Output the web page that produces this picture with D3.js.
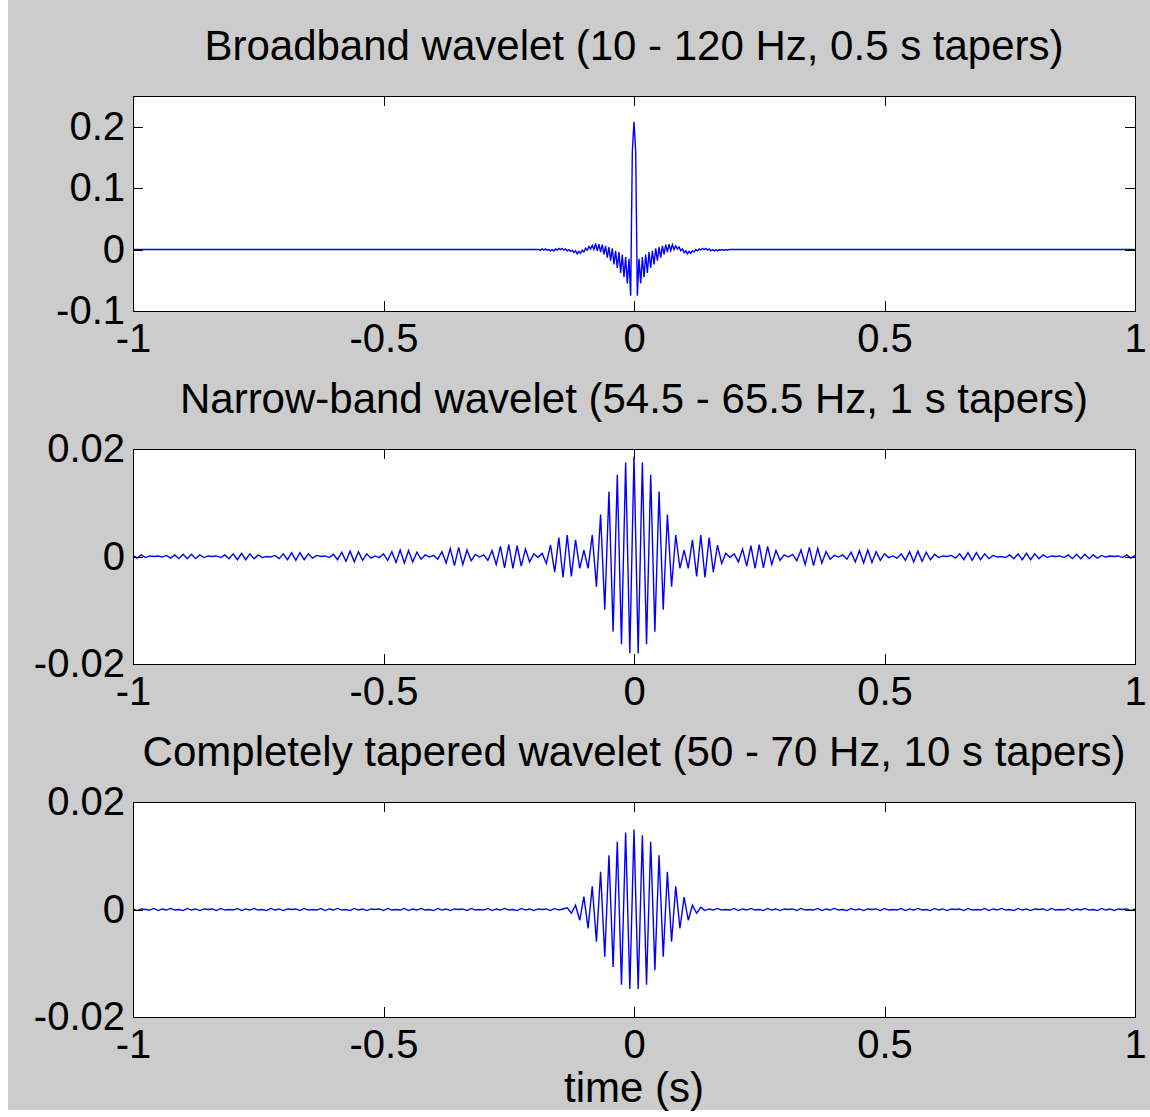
<!DOCTYPE html>
<html>
<head>
<meta charset="utf-8">
<script src="https://cdn.jsdelivr.net/npm/d3@7"></script>
<style>
  body { margin: 0; background: #fff; }
  svg { display: block; }
  text { font-family: "Liberation Sans", Arial, sans-serif; fill: #000; }
</style>
</head>
<body>
<svg id="fig" width="1150" height="1117"></svg>
<script>
// ---- data ----
const titles = [
  "Broadband wavelet (10 - 120 Hz, 0.5 s tapers)",
  "Narrow-band wavelet (54.5 - 65.5 Hz, 1 s tapers)",
  "Completely tapered wavelet (50 - 70 Hz, 10 s tapers)"
];
const xLabel = "time (s)";
const xTicks = [-1, -0.5, 0, 0.5, 1];
const yDomains = [[-0.1, 0.25], [-0.02, 0.02], [-0.02, 0.02]];
const yTicks = [[-0.1, 0, 0.1, 0.2], [-0.02, 0, 0.02], [-0.02, 0, 0.02]];

// broadband: samples every 1/300 s in [-0.19, 0.19], flat zero outside
const broadT = [-1].concat(d3.range(-57, 58).map(k => k / 300), [1]);
const broadY = [0,
  0, -0.001, 0.001, -0.001, 0.001, -0.001, 0, -0.002, 0, -0.002,
  0.001, -0.001, 0.002, 0, 0.002, -0.001, 0.001, -0.002, 0, -0.003,
  -0.001, -0.005, -0.002, -0.007, -0.003, -0.006, -0.001, -0.004, 0.002, -0.001,
  0.005, 0.001, 0.007, 0, 0.010, -0.002, 0.009, -0.004, 0.008, -0.008,
  0.006, -0.013, 0.004, -0.018, 0.002, -0.024, -0.002, -0.030, -0.004, -0.038,
  -0.008, -0.045, -0.012, -0.055, -0.015, -0.075, 0.160,
  0.208, 0.160, -0.075, -0.015, -0.055, -0.012, -0.045, -0.008, -0.038, -0.004,
  -0.030, -0.002, -0.024, 0.002, -0.018, 0.004, -0.013, 0.006, -0.008, 0.008,
  -0.004, 0.009, -0.002, 0.008, 0, 0.006, 0.001, 0.004, -0.002, 0.001,
  -0.005, -0.002, -0.007, -0.003, -0.006, -0.002, -0.004, 0, -0.002, 0.001,
  -0.001, 0.002, 0, 0.002, -0.001, 0.001, -0.002, 0, -0.002, 0,
  -0.002, 0, -0.001, 0, -0.001, 0, -0.001, 0,
  0];

// narrow-band and tapered: one sample per half cycle (1/120 s) over [-1, 1]
const narrowT = d3.range(-120, 121).map(k => k / 120);
const narrowY = [
  0.0002, -0.0003, 0.0003, -0.0002, 0.0001, 0, 0.0001, -0.0001, 0.0002, -0.0003,
  0.0003, -0.0004, 0.0004, -0.0004, 0.0004, -0.0004, 0.0003, -0.0002, 0.0001, 0,
  0.0001, -0.0002, 0.0003, -0.0004, 0.0005, -0.0006, 0.0006, -0.0006, 0.0005, -0.0004,
  0.0003, -0.0002, 0, -0.0001, 0.0002, -0.0004, 0.0005, -0.0006, 0.0007, -0.0007,
  0.0007, -0.0006, 0.0005, -0.0003, 0.0002, 0, 0.0001, -0.0002, 0.0004, -0.0006,
  0.0008, -0.0009, 0.0010, -0.0010, 0.0009, -0.0007, 0.0005, -0.0003, 0.0001, -0.0002,
  0.0005, -0.0007, 0.0009, -0.0011, 0.0012, -0.0012, 0.0011, -0.0010, 0.0008, -0.0005,
  0.0003, -0.0001, 0.0002, -0.0005, 0.0009, -0.0012, 0.0015, -0.0017, 0.0017, -0.0015,
  0.0012, -0.0008, 0.0004, -0.0001, 0.0003, -0.0007, 0.0011, -0.0015, 0.0019, -0.0021,
  0.0022, -0.0022, 0.0020, -0.0018, 0.0014, -0.0010, 0.0005, -0.0002, 0.0006, -0.0013,
  0.0021, -0.0029, 0.0035, -0.0039, 0.0040, -0.0037, 0.0031, -0.0022, 0.0012, -0.0022,
  0.0040, -0.0056, 0.0078, -0.0099, 0.0121, -0.0140, 0.0152, -0.0163, 0.0175, -0.0180,
  0.0186, -0.0180, 0.0175, -0.0163, 0.0152, -0.0140, 0.0121, -0.0099, 0.0078, -0.0056,
  0.0040, -0.0022, 0.0012, -0.0022, 0.0031, -0.0037, 0.0040, -0.0039, 0.0035, -0.0029,
  0.0021, -0.0013, 0.0006, -0.0002, 0.0005, -0.0010, 0.0014, -0.0018, 0.0020, -0.0022,
  0.0022, -0.0021, 0.0019, -0.0015, 0.0011, -0.0007, 0.0003, -0.0001, 0.0004, -0.0008,
  0.0012, -0.0015, 0.0017, -0.0017, 0.0015, -0.0012, 0.0009, -0.0005, 0.0002, -0.0001,
  0.0003, -0.0005, 0.0008, -0.0010, 0.0011, -0.0012, 0.0012, -0.0011, 0.0009, -0.0007,
  0.0005, -0.0002, 0.0001, -0.0003, 0.0005, -0.0007, 0.0009, -0.0010, 0.0010, -0.0009,
  0.0008, -0.0006, 0.0004, -0.0002, 0.0001, 0, 0.0002, -0.0003, 0.0005, -0.0006,
  0.0007, -0.0007, 0.0007, -0.0006, 0.0005, -0.0004, 0.0002, -0.0001, 0, -0.0002,
  0.0003, -0.0004, 0.0005, -0.0006, 0.0006, -0.0006, 0.0005, -0.0004, 0.0003, -0.0002,
  0.0001, 0, 0.0001, -0.0002, 0.0003, -0.0004, 0.0004, -0.0004, 0.0004, -0.0004,
  0.0003, -0.0003, 0.0002, -0.0001, 0.0001, 0, 0.0001, -0.0002, 0.0003, -0.0003,
  0.0002
];

const taperT = narrowT;
const taperY = [
  0.0001, -0.0002, 0.0001, 0, -0.0001, 0.0002, -0.0002, 0.0001, -0.0001, 0.0002,
  -0.0001, 0, -0.0002, 0.0002, -0.0001, 0.0001, -0.0002, 0.0001, 0, 0.0001,
  -0.0002, 0.0002, -0.0001, 0, -0.0001, 0.0002, -0.0002, 0.0001, -0.0001, 0.0002,
  -0.0001, 0, -0.0002, 0.0002, -0.0001, 0.0001, -0.0002, 0.0001, 0, 0.0001,
  -0.0002, 0.0002, -0.0001, 0, -0.0001, 0.0002, -0.0002, 0.0001, -0.0001, 0.0002,
  -0.0001, 0, -0.0002, 0.0002, -0.0001, 0.0001, -0.0002, 0.0001, 0, 0.0001,
  -0.0002, 0.0002, -0.0001, 0, -0.0001, 0.0002, -0.0002, 0.0001, -0.0001, 0.0002,
  -0.0001, 0, -0.0002, 0.0002, -0.0001, 0.0001, -0.0002, 0.0001, 0, 0.0001,
  -0.0002, 0.0002, -0.0001, 0, -0.0001, 0.0002, -0.0002, 0.0001, -0.0001, 0.0002,
  -0.0001, 0, -0.0002, 0.0002, -0.0001, 0.0001, -0.0002, 0.0001, 0, 0.0001,
  -0.0002, 0.0002, -0.0001, 0.0001,
  0.0003, -0.0007, 0.0008, -0.0020, 0.0024, -0.0035, 0.0043, -0.0060, 0.0070, -0.0088,
  0.0101, -0.0107, 0.0126, -0.0140, 0.0143, -0.0148,
  0.0149,
  -0.0148, 0.0138, -0.0140, 0.0126, -0.0113, 0.0101, -0.0088, 0.0070, -0.0060, 0.0043,
  -0.0035, 0.0023, -0.0020, 0.0008, -0.0007, 0.0004,
  -0.0002, 0.0001, -0.0001, 0.0002, -0.0001, 0, -0.0001, 0.0002, -0.0002, 0.0001,
  -0.0001, 0.0002, -0.0001, 0, -0.0002, 0.0002, -0.0001, 0.0001, -0.0002, 0.0001,
  0, 0.0001, -0.0002, 0.0002, -0.0001, 0, -0.0001, 0.0002, -0.0002, 0.0001,
  -0.0001, 0.0002, -0.0001, 0, -0.0002, 0.0002, -0.0001, 0.0001, -0.0002, 0.0001,
  0, 0.0001, -0.0002, 0.0002, -0.0001, 0, -0.0001, 0.0002, -0.0002, 0.0001,
  -0.0001, 0.0002, -0.0001, 0, -0.0002, 0.0002, -0.0001, 0.0001, -0.0002, 0.0001,
  0, 0.0001, -0.0002, 0.0002, -0.0001, 0, -0.0001, 0.0002, -0.0002, 0.0001,
  -0.0001, 0.0002, -0.0001, 0, -0.0002, 0.0002, -0.0001, 0.0001, -0.0002, 0.0001,
  0, 0.0001, -0.0002, 0.0002, -0.0001, 0, -0.0001, 0.0002, -0.0002, 0.0001,
  -0.0001, 0.0002, -0.0001, 0, -0.0002, 0.0002, -0.0001, 0.0001, -0.0002, 0.0001,
  0, 0.0001, -0.0002, 0.0001
];

const seriesT = [broadT, narrowT, taperT];
const seriesY = [broadY, narrowY, taperY];

// ---- layout ----
const width = 1150;
const plotLeft = 133, plotRight = 1135, plotHeight = 215;
const panelTops = [96, 449, 802];
const tickLen = 10;
const labelSize = 40, titleSize = 42;
const lineColor = "#0000ff";

const svg = d3.select("#fig");

// figure background (thin white strip at left and bottom, as in the picture)
svg.append("rect")
  .attr("x", 8).attr("y", 0)
  .attr("width", width - 8).attr("height", 1110)
  .attr("fill", "#cccccc");

const x = d3.scaleLinear().domain([-1, 1]).range([plotLeft, plotRight]);
const fmt = d => String(d);

function styleAxis(g, showLabels) {
  g.select(".domain").remove();
  g.selectAll(".tick line").attr("stroke", "#000").attr("shape-rendering", "crispEdges");
  g.selectAll("text")
    .attr("font-size", labelSize)
    .attr("font-family", '"Liberation Sans", Arial, sans-serif')
    .attr("fill", "#000");
  if (!showLabels) g.selectAll("text").remove();
}

titles.forEach((title, i) => {
  const top = panelTops[i];
  const bottom = top + plotHeight;
  const y = d3.scaleLinear().domain(yDomains[i]).range([bottom, top]);
  const g = svg.append("g");

  g.append("rect")
    .attr("x", plotLeft).attr("y", top)
    .attr("width", plotRight - plotLeft).attr("height", plotHeight)
    .attr("fill", "#fff");

  const clipId = "clip" + i;
  g.append("clipPath").attr("id", clipId)
    .append("rect")
    .attr("x", plotLeft).attr("y", top)
    .attr("width", plotRight - plotLeft).attr("height", plotHeight);

  const pts = seriesT[i].map((t, j) => [t, seriesY[i][j]]);
  const line = d3.line().x(d => x(d[0])).y(d => y(d[1]));

  g.append("path")
    .datum(pts)
    .attr("clip-path", `url(#${clipId})`)
    .attr("fill", "none")
    .attr("stroke", lineColor)
    .attr("stroke-width", 1.4)
    .attr("stroke-linejoin", "miter")
    .attr("d", line);

  // ticks point inward on all four sides
  g.append("g")
    .attr("transform", `translate(0,${bottom})`)
    .call(d3.axisBottom(x).tickValues(xTicks).tickFormat(fmt)
      .tickSizeInner(-tickLen).tickSizeOuter(0).tickPadding(13))
    .call(a => styleAxis(a, true));

  g.append("g")
    .attr("transform", `translate(0,${top})`)
    .call(d3.axisTop(x).tickValues(xTicks).tickSizeInner(-tickLen).tickSizeOuter(0))
    .call(a => styleAxis(a, false));

  g.append("g")
    .attr("transform", `translate(${plotLeft},0)`)
    .call(d3.axisLeft(y).tickValues(yTicks[i]).tickFormat(fmt)
      .tickSizeInner(-tickLen).tickSizeOuter(0).tickPadding(8))
    .call(a => styleAxis(a, true));

  g.append("g")
    .attr("transform", `translate(${plotRight},0)`)
    .call(d3.axisRight(y).tickValues(yTicks[i]).tickSizeInner(-tickLen).tickSizeOuter(0))
    .call(a => styleAxis(a, false));

  g.append("rect")
    .attr("x", plotLeft).attr("y", top)
    .attr("width", plotRight - plotLeft).attr("height", plotHeight)
    .attr("fill", "none")
    .attr("stroke", "#000")
    .attr("stroke-width", 1)
    .attr("shape-rendering", "crispEdges");

  g.append("text")
    .attr("x", (plotLeft + plotRight) / 2)
    .attr("y", top - 36)
    .attr("text-anchor", "middle")
    .attr("font-size", titleSize)
    .text(title);
});

svg.append("text")
  .attr("x", (plotLeft + plotRight) / 2)
  .attr("y", 1102)
  .attr("text-anchor", "middle")
  .attr("font-size", titleSize)
  .text(xLabel);
</script>
</body>
</html>
